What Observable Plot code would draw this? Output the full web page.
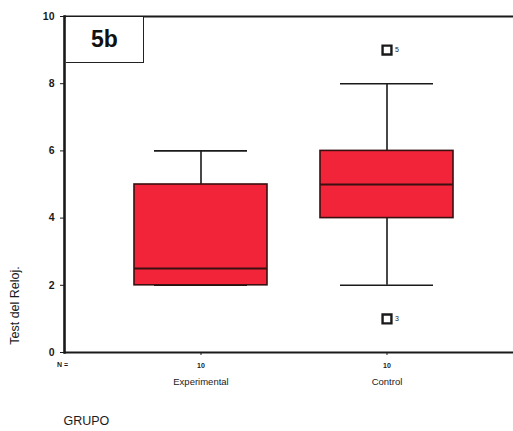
<!DOCTYPE html>
<html>
<head>
<meta charset="utf-8">
<script src="https://cdn.jsdelivr.net/npm/d3@7"></script>
<script src="https://cdn.jsdelivr.net/npm/@observablehq/plot@0.6"></script>
<style>
  html, body { margin: 0; padding: 0; background: #fff; }
  #wrap { position: relative; width: 513px; height: 431px; font-family: Arial, "Liberation Sans", sans-serif; }
  #tag { position: absolute; left: 66px; top: 17px; width: 77px; height: 45px; border-right: 1.5px solid #222; border-bottom: 1.5px solid #222; background: #fff;
         display: flex; align-items: center; justify-content: center; font-weight: bold; font-size: 23px; color: #111; }
</style>
</head>
<body>
<div id="wrap"></div>
<script>
const groups = ["Experimental", "Control"];
const nCounts = [10, 10];
const whiskerLow = [2, 2];
const q1 = [2, 4];
const median = [2.5, 5];
const q3 = [5, 6];
const whiskerHigh = [6, 8];
const outlierGroup = ["Control", "Control"];
const outlierValue = [9, 1];
const outlierLabel = ["5", "3"];
const yTicks = [0, 2, 4, 6, 8, 10];

const stats = groups.map((g, i) => ({group: g, n: nCounts[i], lo: whiskerLow[i], q1: q1[i], med: median[i], q3: q3[i], hi: whiskerHigh[i]}));
const outliers = outlierValue.map((v, i) => ({group: outlierGroup[i], value: v, label: outlierLabel[i]}));
const nByGroup = Object.fromEntries(groups.map((g, i) => [g, nCounts[i]]));

const ink = "#1a1a1a";
const plot = Plot.plot({
  width: 513,
  height: 431,
  marginLeft: 64,
  marginRight: 0,
  marginTop: 16,
  marginBottom: 79,
  style: {fontFamily: "Arial, 'Liberation Sans', sans-serif", background: "#fff", color: ink},
  x: {domain: groups, range: [64, 523], paddingInner: 0.283, paddingOuter: 0.369, align: 0.5},
  y: {domain: [0, 10]},
  marks: [
    Plot.ruleX(stats, {x: "group", y1: "lo", y2: "hi", stroke: ink, strokeWidth: 1.6}),
    Plot.tickY(stats, {x: "group", y: "lo", stroke: ink, strokeWidth: 1.6, insetLeft: 20, insetRight: 20}),
    Plot.tickY(stats, {x: "group", y: "hi", stroke: ink, strokeWidth: 1.6, insetLeft: 20, insetRight: 20}),
    Plot.barY(stats, {x: "group", y1: "q1", y2: "q3", fill: "#f2243a", stroke: "#3a1010", strokeWidth: 1.6}),
    Plot.tickY(stats, {x: "group", y: "med", stroke: "#3a1010", strokeWidth: 2}),
    Plot.dot(outliers, {x: "group", y: "value", symbol: "square", r: 5, fill: "#fff", stroke: ink, strokeWidth: 2.4}),
    Plot.text(outliers, {x: "group", y: "value", text: "label", dx: 8, textAnchor: "start", fontSize: 7, fill: ink}),
    Plot.ruleY([0, 10], {stroke: ink, strokeWidth: 2.2}),
    Plot.frame({anchor: "left", stroke: ink, strokeWidth: 2.6}),
    Plot.axisY({ticks: yTicks, tickSize: 4, tickPadding: 6, fontSize: 10.5, fontWeight: "bold", label: null, stroke: ink}),
    Plot.axisX({tickSize: 3, tickPadding: 8, fontSize: 7, fontWeight: "bold", tickFormat: (g) => String(nByGroup[g]), label: null}),
    Plot.axisX({tickSize: 0, tickPadding: 26, fontSize: 9.5, tickFormat: (g) => g, label: null}),
    Plot.text(["N ="], {frameAnchor: "bottom-left", dx: -2, dy: 14, fontSize: 7, fontWeight: "bold", textAnchor: "middle", fill: ink}),
    Plot.text(["Test del Reloj."], {frameAnchor: "bottom-left", dx: -46, dy: -47, rotate: -90, fontSize: 12.5, textAnchor: "middle", fill: ink}),
    Plot.text(["GRUPO"], {frameAnchor: "bottom-left", dx: -1, dy: 72, fontSize: 12.5, textAnchor: "start", fill: ink})
  ]
});
const wrap = document.getElementById("wrap");
wrap.appendChild(plot);
const tag = document.createElement("div");
tag.id = "tag";
tag.textContent = "5b";
wrap.appendChild(tag);
</script>
</body>
</html>
